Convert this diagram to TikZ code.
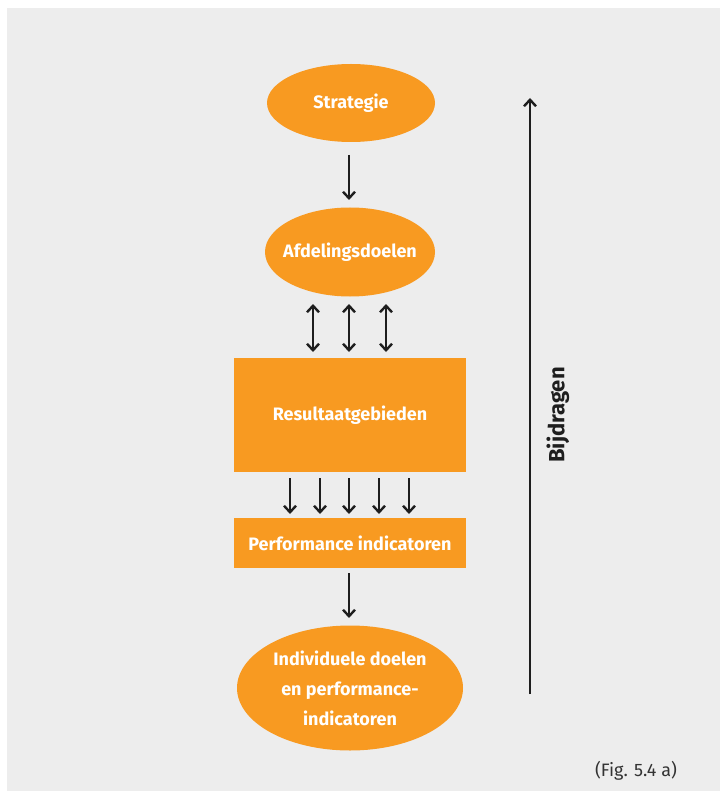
\documentclass[tikz,border=0pt]{standalone}
\usepackage{fontspec}
\setmainfont{Fira Sans}
\usetikzlibrary{arrows.meta,shapes.geometric}
\definecolor{bggray}{HTML}{EDEDED}
\definecolor{orng}{HTML}{F89A21}
\definecolor{arrowc}{HTML}{1E1E1E}
\definecolor{capc}{HTML}{333333}
\begin{document}
\begin{tikzpicture}[x=1pt,y=-1pt,
  lbl/.style={text=white,font=\fontsize{18}{30}\selectfont\bfseries,align=center},
  oval/.style={ellipse,fill=orng,inner sep=0pt},
  rbox/.style={rectangle,fill=orng,inner sep=0pt,lbl},
  arr/.style={draw=arrowc,line width=2.4pt,-{Straight Barb[length=6.5pt,width=12pt,line width=2.4pt]}},
  darr/.style={draw=arrowc,line width=2.4pt,{Straight Barb[length=6.5pt,width=12pt,line width=2.4pt]}-{Straight Barb[length=6.5pt,width=12pt,line width=2.4pt]}}]
\useasboundingbox (0,0) rectangle (720,791);
\fill[bggray] (7,8) rectangle (720,791);
\node[oval,minimum width=168pt,minimum height=78pt] (strat) at (351,103) {};
\node[lbl] (stratt) at (strat.center) {Strategie};
\node[oval,minimum width=170pt,minimum height=89pt] (afd) at (350,252) {};
\node[lbl] (afdt) at (afd.center) {Afdelingsdoelen};
\node[rbox,minimum width=232pt,minimum height=114pt] (res) at (350,415) {Resultaatgebieden};
\node[rbox,minimum width=232pt,minimum height=50pt] (perf) at (350,543) {Performance indicatoren};
\node[oval,minimum width=226pt,minimum height=125pt] (ind) at (350,688) {};
\node[lbl] (indt) at (ind.center) {Individuele doelen\\en performance-\\indicatoren};
\coordinate (s1) at (349,155); \coordinate (s2) at (349,200);
\draw[arr] (s1) -- (s2);
\foreach \x [count=\i] in {313,349,386} {
  \coordinate (da\i) at (\x,304); \coordinate (db\i) at (\x,352);
  \draw[darr] (da\i) -- (db\i);
}
\foreach \x [count=\i] in {290,320,349,379,409} {
  \coordinate (ra\i) at (\x,478); \coordinate (rb\i) at (\x,514);
  \draw[arr] (ra\i) -- (rb\i);
}
\coordinate (p1) at (349,573); \coordinate (p2) at (349,618);
\draw[arr] (p1) -- (p2);
\coordinate (b1) at (530,694); \coordinate (b2) at (530,98);
\draw[arr] (b1) -- (b2);
\node[rotate=90,text=arrowc,font=\fontsize{22}{24}\selectfont\bfseries] (bij) at (558,415) {Bijdragen};
\node[text=capc,font=\fontsize{18}{20}\selectfont] (fig) at (636,771) {(Fig. 5.4 a)};
\end{tikzpicture}
\end{document}
